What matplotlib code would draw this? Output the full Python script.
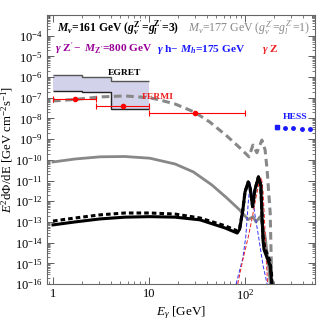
import numpy as np
import matplotlib.pyplot as plt

plt.rcParams['font.family'] = 'Liberation Serif'
plt.rcParams['mathtext.fontset'] = 'custom'
plt.rcParams['mathtext.rm'] = 'Liberation Serif'
plt.rcParams['mathtext.it'] = 'Liberation Serif:italic'
plt.rcParams['mathtext.bf'] = 'Liberation Serif:bold'
plt.rcParams['mathtext.bfit'] = 'Liberation Serif:bold:italic'

# EGRET band (bins in GeV)
egret_edges = [1, 2, 4, 10]
egret_upper = [1.3e-6, 1.0e-6, 6.5e-7]
egret_lower = [2.1e-7, 1.8e-7, 3.0e-8]

# FERMI points
fermi_e = [1.7, 5.4, 30]
fermi_lo = [1.0, 2.8, 10]
fermi_hi = [2.8, 10, 100]
fermi_flux = [8.7e-8, 4.0e-8, 1.9e-8]

# HESS points
hess_e = [215, 260, 320, 390, 480, 590]
hess_flux = [3.7e-9, 3.5e-9, 3.3e-9, 3.2e-9, 3.1e-9, 3.0e-9]

# M_nu = 177 GeV, total (gray dashed)
gd_e = [1.0, 1.7, 3.1, 5.6, 10.2, 13, 18.7, 30, 43, 65, 89, 110, 121, 133, 150, 162, 170, 183, 190]
gd_f = [7.0e-8, 8.3e-8, 1.1e-7, 1.23e-7, 1.0e-7, 7.8e-8, 5.0e-8, 2.0e-8, 6.7e-9, 1.4e-9,
        3.7e-10, 1.4e-10, 5.2e-10, 2.2e-10, 9.0e-10, 3.0e-10, 3.2e-11, 2.7e-13, 1e-16]

# M_nu = 177 GeV, gray solid
gs_e = [1.0, 1.7, 3.1, 5.6, 10.2, 18.7, 29, 45, 63, 88, 108, 121, 130, 144, 162, 175, 183]
gs_f = [7.9e-11, 1.1e-10, 1.4e-10, 1.45e-10, 1.2e-10, 6.3e-11, 2.6e-11, 6.2e-12, 1.6e-12,
        3.8e-13, 1.3e-13, 1.8e-13, 1.0e-13, 1.8e-13, 2.0e-14, 1e-15, 1e-16]

# M_nu = 161 GeV, black solid
bs_e = [1.0, 1.7, 3.1, 5.6, 10.2, 18.7, 34, 62, 83, 88, 95, 100, 108, 113, 120, 127, 138,
        146, 154, 158, 183, 190]
bs_f = [7.2e-14, 1.0e-13, 1.4e-13, 1.7e-13, 1.8e-13, 1.7e-13, 1.26e-13, 5.1e-14, 2.9e-14,
        4.5e-14, 3.8e-13, 2.8e-12, 8.5e-12, 4.4e-12, 5.4e-13, 3.6e-12, 1.5e-11, 6.2e-12,
        1.3e-14, 4.5e-15, 7.5e-16, 1e-16]

# M_nu = 161 GeV, black dashed
bd_e = [1.0, 1.7, 3.1, 5.6, 10.2, 18.7, 34, 62, 83, 88, 95, 100, 108, 113, 120, 127, 138,
        146, 154, 160, 185, 192]
bd_f = [1.1e-13, 1.55e-13, 2.2e-13, 2.7e-13, 2.7e-13, 2.4e-13, 1.55e-13, 6.5e-14, 3.7e-14,
        5.0e-14, 3.9e-13, 2.8e-12, 8.5e-12, 4.4e-12, 5.6e-13, 3.6e-12, 1.5e-11, 6.2e-12,
        2.0e-14, 6.0e-15, 1.0e-15, 1e-16]

# gamma h line (blue dashed)
bl_e = [80.8, 88, 95, 102, 108, 113, 121, 127, 140, 154, 170]
bl_f = [1e-16, 4.7e-16, 1.8e-15, 2e-14, 8e-13, 8.0e-12, 1.2e-12, 2.2e-13, 1.4e-14, 8e-16, 1e-16]

# gamma Z line (red dashed)
rd_e = [84, 95, 108, 120, 130, 140, 148, 154, 160, 166, 172]
rd_f = [1e-16, 1.5e-15, 1.8e-14, 2e-13, 1.5e-12, 8e-12, 1.4e-11, 3e-12, 1e-13, 2e-15, 1e-16]

fig = plt.figure(figsize=(3.21, 3.24), dpi=100)
ax = fig.add_axes([47/321, 1-284/324, 268/321, 269/324])

ax.stairs(egret_upper, egret_edges, baseline=egret_lower, fill=True, color='#d2d2ea', lw=0, zorder=1)
ax.stairs(egret_upper, egret_edges, baseline=None, color='#555555', lw=1.0, zorder=2)
ax.stairs(egret_lower, egret_edges, baseline=None, color='#222222', lw=1.0, zorder=2)

ax.plot(gs_e, gs_f, color='#888888', lw=2, zorder=3)
ax.plot(gd_e, gd_f, color='#888888', lw=2.2, ls=(0, (2.5, 1.5)), zorder=3)
ax.plot(bl_e, bl_f, color='#3333ff', lw=0.7, ls=(0, (4, 2)), zorder=4)
ax.plot(rd_e, rd_f, color='#ee2222', lw=0.7, ls=(0, (4, 2)), zorder=4)
ax.plot(bs_e, bs_f, color='black', lw=2.2, zorder=5)
ax.plot(bd_e, bd_f, color='black', lw=2.2, ls=(0, (1.5, 1)), zorder=5)

fermi_err = [np.array(fermi_e) - np.array(fermi_lo), np.array(fermi_hi) - np.array(fermi_e)]
ax.errorbar(fermi_e, fermi_flux, xerr=fermi_err, fmt='o', color='red', ecolor='red',
            ms=3, elinewidth=0.8, capsize=2, capthick=0.8, zorder=6)
ax.errorbar(hess_e[:1], hess_flux[:1], yerr=[[6e-10], [6e-10]], fmt='s', color='#1a1aff',
            ms=2.5, elinewidth=0.8, capsize=1.5, zorder=6)
ax.plot(hess_e[1:], hess_flux[1:], 'o', color='#1a1aff', ms=2.5, zorder=6)

ax.set_xscale('log')
ax.set_yscale('log')
ax.set_xlim(0.866, 536)
ax.set_ylim(1e-16, 1e-3)
ax.set_xticks([1, 10, 100])
ax.set_xticklabels(['1', '10', r'$10^{2}$'])
ax.set_yticks([10.0**k for k in range(-16, -3)])
ax.tick_params(which='both', direction='in', top=True, right=True, labelsize=9, colors='#444444',
               labelcolor='black')
ax.tick_params(which='major', length=5, width=0.6, pad=3)
ax.tick_params(which='minor', length=2.5, width=0.5)
ax.yaxis.set_minor_locator(plt.matplotlib.ticker.LogLocator(base=10, subs=np.arange(2, 10), numticks=30))
for s in ax.spines.values():
    s.set_color('#666666')
    s.set_linewidth(0.8)

ax.set_xlabel(r'$E_{\gamma}$ [GeV]', fontsize=9.5, labelpad=1)
ax.set_ylabel(r'$E^{2}$d$\Phi$/dE [GeV cm$^{-2}$s$^{-1}$]', fontsize=9.2, labelpad=0)
ax.yaxis.set_label_coords(-0.118, 0.5)

def px(x, y):
    return x / 321, 1 - y / 324

fig.text(*px(57, 28), r"$\mathbfit{M}_{\mathbfit{\nu}}$=161 GeV ($\mathbfit{g}_{\mathbfit{\nu}}^{\mathbf{Z'}}$=$\mathbfit{g}_{\mathbfit{l}}^{\mathbf{Z'}}$=3)",
         fontsize=8.4, fontweight='bold', va='center', ha='left')
fig.text(*px(188, 28), r"$M_{\nu}$=177 GeV ($g_{\nu}^{Z'}$=$g_{l}^{Z'}$=1)",
         fontsize=8.6, color='#888888', va='center', ha='left')
fig.text(*px(55, 49), r"$\mathbfit{\gamma}$ Z$'-$ $\mathbfit{M}_{\mathbf{Z'}}$=800 GeV",
         fontsize=8.2, fontweight='bold', color='#990099', va='center', ha='left')
fig.text(*px(157, 49), r"$\mathbfit{\gamma}$ h$-$ $\mathbfit{M}_{\mathbfit{h}}$=175 GeV",
         fontsize=8.2, fontweight='bold', color='#1a1aff', va='center', ha='left')
fig.text(*px(262, 49), r"$\mathbfit{\gamma}$ Z", fontsize=8.2, fontweight='bold',
         color='#ee2222', va='center', ha='left')
fig.text(*px(108, 73), 'EGRET', fontsize=6.8, fontweight='bold', va='center', ha='left')
fig.text(*px(142, 97), 'FERMI', fontsize=6.8, fontweight='bold', color='#ee2222',
         va='center', ha='left')
fig.text(*px(283, 117), 'HESS', fontsize=6.8, fontweight='bold', color='#1a1aff',
         va='center', ha='left')

fig.savefig('out.png', dpi=100)
